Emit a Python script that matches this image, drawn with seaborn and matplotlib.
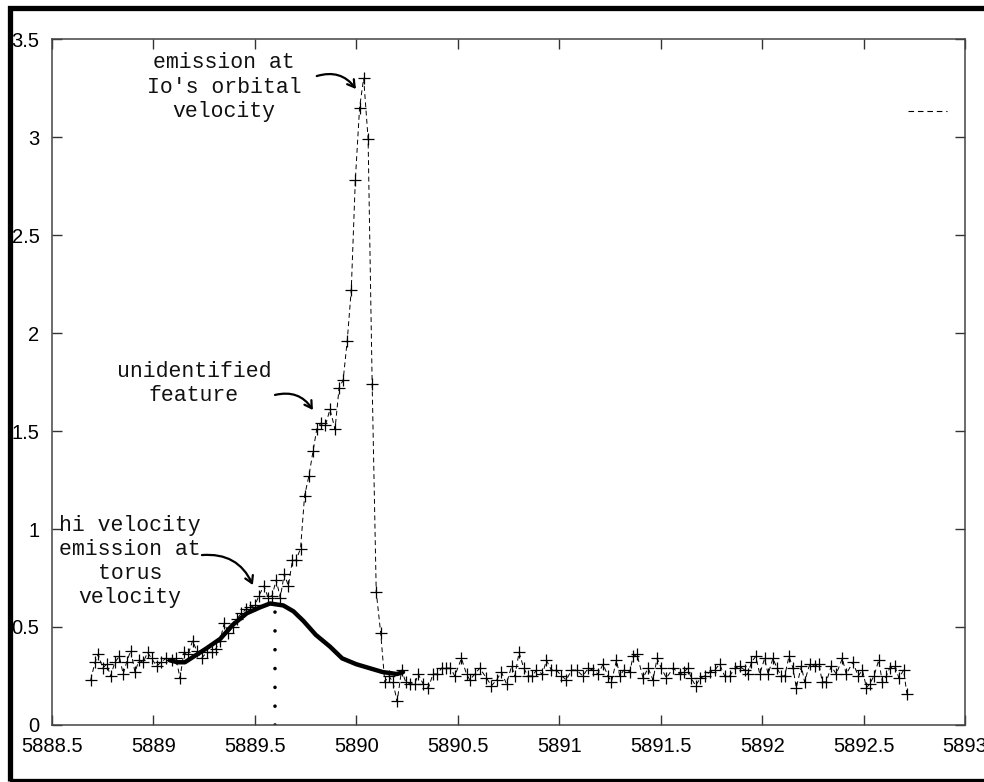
import matplotlib
matplotlib.use("Agg")
import matplotlib.pyplot as plt
import seaborn as sns
from matplotlib.lines import Line2D
from matplotlib.patches import Rectangle

wave = [
    5888.691, 5888.712, 5888.728, 5888.750, 5888.769, 5888.789, 5888.810, 5888.832, 5888.851, 5888.868,
    5888.888, 5888.909, 5888.929, 5888.950, 5888.971, 5888.991, 5889.016, 5889.037, 5889.062, 5889.090,
    5889.111, 5889.131, 5889.150, 5889.171, 5889.193, 5889.213, 5889.237, 5889.262, 5889.287, 5889.308,
    5889.328, 5889.349, 5889.369, 5889.390, 5889.410, 5889.434, 5889.456, 5889.475, 5889.500, 5889.520,
    5889.545, 5889.565, 5889.585, 5889.605, 5889.625, 5889.645, 5889.665, 5889.685, 5889.702, 5889.725,
    5889.745, 5889.766, 5889.787, 5889.805, 5889.825, 5889.848, 5889.870, 5889.895, 5889.915, 5889.935,
    5889.955, 5889.975, 5889.995, 5890.016, 5890.036, 5890.058, 5890.078, 5890.098, 5890.120, 5890.140,
    5890.160, 5890.180, 5890.201, 5890.223, 5890.243, 5890.264, 5890.288, 5890.305, 5890.329, 5890.355,
    5890.378, 5890.398, 5890.420, 5890.444, 5890.464, 5890.485, 5890.518, 5890.543, 5890.559, 5890.584,
    5890.608, 5890.641, 5890.666, 5890.691, 5890.715, 5890.740, 5890.765, 5890.781, 5890.802, 5890.825,
    5890.846, 5890.868, 5890.887, 5890.917, 5890.937, 5890.961, 5890.986, 5891.011, 5891.035, 5891.060,
    5891.085, 5891.117, 5891.142, 5891.167, 5891.191, 5891.216, 5891.240, 5891.257, 5891.282, 5891.298,
    5891.318, 5891.347, 5891.364, 5891.383, 5891.413, 5891.438, 5891.462, 5891.482, 5891.503, 5891.528,
    5891.561, 5891.594, 5891.614, 5891.634, 5891.650, 5891.672, 5891.695, 5891.717, 5891.741, 5891.766,
    5891.790, 5891.815, 5891.840, 5891.865, 5891.889, 5891.914, 5891.930, 5891.947, 5891.968, 5891.988,
    5892.012, 5892.029, 5892.053, 5892.073, 5892.094, 5892.111, 5892.132, 5892.152, 5892.168, 5892.193,
    5892.209, 5892.234, 5892.258, 5892.280, 5892.296, 5892.316, 5892.340, 5892.365, 5892.395, 5892.414,
    5892.447, 5892.473, 5892.494, 5892.514, 5892.530, 5892.551, 5892.574, 5892.592, 5892.612, 5892.628,
    5892.653, 5892.674, 5892.697, 5892.713,
]
flux = [
    0.23, 0.32, 0.36, 0.29, 0.31, 0.25, 0.32, 0.35, 0.26, 0.32,
    0.38, 0.27, 0.33, 0.32, 0.37, 0.34, 0.30, 0.32, 0.34, 0.33,
    0.34, 0.24, 0.37, 0.36, 0.43, 0.38, 0.34, 0.37, 0.37, 0.39,
    0.43, 0.52, 0.47, 0.50, 0.54, 0.57, 0.59, 0.60, 0.61, 0.66,
    0.71, 0.65, 0.66, 0.74, 0.65, 0.77, 0.71, 0.84, 0.84, 0.90,
    1.17, 1.27, 1.40, 1.51, 1.54, 1.53, 1.61, 1.51, 1.72, 1.76,
    1.96, 2.22, 2.78, 3.15, 3.30, 2.99, 1.74, 0.68, 0.47, 0.22,
    0.25, 0.22, 0.12, 0.28, 0.22, 0.21, 0.21, 0.26, 0.21, 0.19,
    0.26, 0.26, 0.29, 0.29, 0.29, 0.25, 0.34, 0.26, 0.23, 0.26,
    0.29, 0.24, 0.20, 0.23, 0.27, 0.21, 0.30, 0.25, 0.37, 0.29,
    0.25, 0.25, 0.28, 0.26, 0.33, 0.28, 0.28, 0.25, 0.23, 0.28,
    0.28, 0.25, 0.29, 0.28, 0.26, 0.31, 0.25, 0.22, 0.33, 0.25,
    0.28, 0.27, 0.35, 0.36, 0.24, 0.29, 0.23, 0.34, 0.29, 0.24,
    0.29, 0.26, 0.27, 0.29, 0.24, 0.20, 0.24, 0.25, 0.27, 0.28,
    0.31, 0.25, 0.25, 0.29, 0.30, 0.28, 0.26, 0.32, 0.35, 0.26,
    0.34, 0.26, 0.34, 0.29, 0.25, 0.25, 0.35, 0.29, 0.19, 0.30,
    0.22, 0.31, 0.30, 0.31, 0.22, 0.22, 0.30, 0.26, 0.34, 0.26,
    0.32, 0.25, 0.28, 0.19, 0.21, 0.25, 0.33, 0.22, 0.25, 0.29,
    0.30, 0.24, 0.28, 0.16,
]

# hand drawn torus-velocity component (thick curve)
fit_wave = [5889.08, 5889.12, 5889.155, 5889.20, 5889.26, 5889.33, 5889.39, 5889.46, 5889.525,
            5889.575, 5889.64, 5889.69, 5889.74, 5889.80, 5889.87, 5889.93, 5890.00, 5890.065,
            5890.13, 5890.20, 5890.23]
fit_flux = [0.33, 0.32, 0.32, 0.35, 0.39, 0.44, 0.51, 0.57, 0.60,
            0.62, 0.61, 0.58, 0.53, 0.46, 0.40, 0.34, 0.31, 0.29,
            0.27, 0.26, 0.27]

marker_wave = 5889.6
marker_top = 0.58

xticks = [5888.5, 5889, 5889.5, 5890, 5890.5, 5891, 5891.5, 5892, 5892.5, 5893]
xtick_labels = ["5888.5", "5889", "5889.5", "5890", "5890.5", "5891", "5891.5", "5892", "5892.5", "5893"]
yticks = [0, 0.5, 1, 1.5, 2, 2.5, 3, 3.5]
ytick_labels = ["0", "0.5", "1", "1.5", "2", "2.5", "3", "3.5"]

sns.set_style("ticks")
plt.rcParams["font.family"] = ["Liberation Sans", "DejaVu Sans"]

fig = plt.figure(figsize=(9.84, 7.82), dpi=100)
ax = fig.add_axes([0.0528, 0.0729, 0.928, 0.8772])

sns.lineplot(x=wave, y=flux, ax=ax, color="black", lw=0.7, linestyle=(0, (5, 3.5)),
             marker="+", markersize=8, markeredgewidth=0.9, markeredgecolor="black")
sns.lineplot(x=fit_wave, y=fit_flux, ax=ax, color="black", lw=3.2,
             solid_joinstyle="round", solid_capstyle="round")

# dotted marker line
ax.plot([marker_wave, marker_wave], [0, marker_top], color="black", lw=2.6,
        linestyle=(0, (0.01, 5.2)), dash_capstyle="round")

ax.set_xlim(5888.5, 5893)
ax.set_ylim(0, 3.5)
ax.set_xticks(xticks)
ax.set_xticklabels(xtick_labels)
ax.set_yticks(yticks)
ax.set_yticklabels(ytick_labels)
ax.tick_params(direction="in", length=7, width=1, color="#333333",
               top=True, right=True, labelsize=14.5, labelcolor="black")
ax.tick_params(axis="x", pad=9)
ax.tick_params(axis="y", pad=9)
for sp in ax.spines.values():
    sp.set_color("#444444")
    sp.set_linewidth(1.1)

# annotations
mono = dict(family=["Liberation Mono", "DejaVu Sans Mono"], fontsize=15.5, color="#111111",
            ha="center", va="center", multialignment="center")
arrow = dict(arrowstyle="->,head_length=0.5,head_width=0.3", connectionstyle="arc3,rad=-0.35",
             lw=1.6, color="black", shrinkA=0, shrinkB=0)

ax.text(5889.347, 3.255, "emission at\nIo's orbital\nvelocity", **mono)
ax.annotate("", xy=(5889.998, 3.245), xytext=(5889.805, 3.311), arrowprops=arrow)

ax.text(5889.20, 1.742, "unidentified\nfeature", **mono)
ax.annotate("", xy=(5889.786, 1.607), xytext=(5889.599, 1.684), arrowprops=arrow)

ax.text(5888.884, 0.834, "hi velocity\nemission at\ntorus\nvelocity", **mono)
ax.annotate("", xy=(5889.49, 0.714), xytext=(5889.239, 0.867), arrowprops=arrow)

# key with its title removed
key = Line2D([], [], color="black", lw=0.8, linestyle=(0, (5, 3.5)))
ax.legend(handles=[key], labels=[" "], loc="center left", bbox_to_anchor=(0.9266, 0.892),
          frameon=False, borderpad=0, handlelength=2.0, fontsize=14)

# black frame around the picture
fig.patches.append(Rectangle((0.0097, 0.0019), 1.2, 0.9885, transform=fig.transFigure,
                             fill=False, edgecolor="black", lw=3.8, zorder=10))

fig.savefig("out.png", dpi=100)
